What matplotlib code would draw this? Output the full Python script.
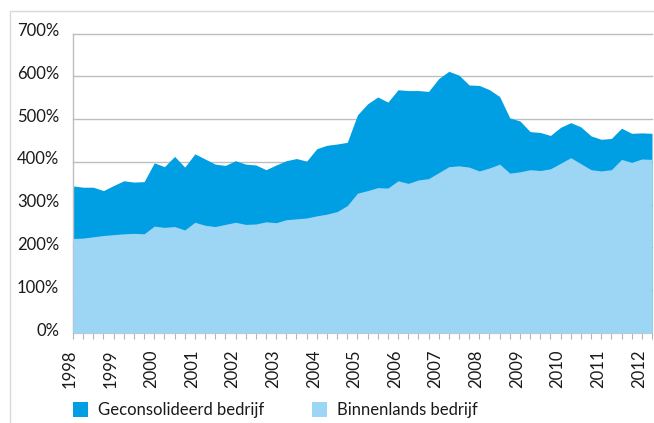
import numpy as np
import matplotlib
matplotlib.use("Agg")
from matplotlib import pyplot as plt
from matplotlib.patches import Rectangle
from matplotlib.transforms import ScaledTranslation

# quarterly data, 1998 Q1 .. 2012 Q2 (percent)
years = list(range(1998, 2013))
geconsolideerd = [344, 341, 341, 333, 345, 356, 353, 354, 398, 389, 413, 388,
                  419, 407, 395, 392, 403, 395, 393, 382, 393, 403, 408, 402,
                  431, 439, 442, 446, 510, 536, 552, 540, 569, 567, 567, 565,
                  595, 612, 603, 580, 579, 569, 553, 503, 496, 471, 469, 462,
                  481, 492, 482, 461, 453, 455, 479, 467, 468, 467]
binnenlands = [221, 222, 225, 228, 230, 232, 233, 232, 250, 247, 249, 241,
               259, 252, 249, 254, 259, 254, 255, 260, 258, 265, 267, 269,
               274, 278, 284, 298, 327, 333, 340, 339, 356, 350, 358, 361,
               375, 389, 391, 388, 379, 386, 395, 374, 377, 382, 380, 384,
               397, 410, 396, 382, 379, 382, 406, 399, 407, 406]
series_labels = ["Geconsolideerd bedrijf", "Binnenlands bedrijf"]
yticks = [0, 100, 200, 300, 400, 500, 600, 700]

dark_blue = "#009FE3"
light_blue = "#9DD5F4"
grid_grey = "#BEBEBE"
text_col = "#1a1a1a"

plt.rcParams["font.family"] = ["Lato", "DejaVu Sans"]

W, H = 654, 423
fig = plt.figure(figsize=(W / 100, H / 100), dpi=100)
ax = fig.add_axes([73 / W, 1 - 333 / H, 579 / W, (333 - 33.7) / H])

x = np.arange(len(geconsolideerd))
ax.fill_between(x, 0, geconsolideerd, color=dark_blue, lw=0, zorder=2)
ax.fill_between(x, 0, binnenlands, color=light_blue, lw=0, zorder=3)

ax.set_xlim(0, len(x) - 1)
ax.set_ylim(0, 700)

for v in yticks[1:]:
    ax.axhline(v, color=grid_grey, lw=1.0, zorder=1, clip_on=False)

ax.set_yticks(yticks)
ax.set_yticklabels([f"{v}%" for v in yticks], fontsize=12, color=text_col)
ax.tick_params(axis="y", length=0, pad=10)
for lab in ax.get_yticklabels():
    lab.set_transform(lab.get_transform() + ScaledTranslation(0, 4 / 100, fig.dpi_scale_trans))

ax.set_xticks(np.arange(0, len(x), 4))
ax.set_xticklabels([str(y) for y in years], rotation=90, fontsize=12, color=text_col)
ax.set_xticks(x, minor=True)
ax.tick_params(axis="x", which="both", length=4, color="#b5b5b5", width=0.8, pad=8)
for lab in ax.get_xticklabels():
    lab.set_transform(lab.get_transform() + ScaledTranslation(-3 / 100, 0, fig.dpi_scale_trans))

for s in ["top", "right"]:
    ax.spines[s].set_visible(False)
ax.spines["left"].set_color(grid_grey)
ax.spines["left"].set_linewidth(1.0)
ax.spines["bottom"].set_color("#c6c6c6")
ax.spines["bottom"].set_linewidth(0.8)

# outer frame (left/top visible)
fig.patches.append(Rectangle((10 / W, -0.1), 1.2, 1.1 - 11 / H, transform=fig.transFigure,
                             fill=False, edgecolor="#d9d9d9", lw=1.0))

# legend
for i, (lab, col) in enumerate(zip(series_labels, [dark_blue, light_blue])):
    x0 = [73, 312][i]
    fig.patches.append(Rectangle((x0 / W, 1 - 417 / H), 15 / W, 15 / H,
                                 transform=fig.transFigure, color=col, lw=0))
    fig.text((x0 + 25) / W, 1 - 409.5 / H, lab, fontsize=12, color=text_col,
             va="center", ha="left")

fig.savefig("out.png", dpi=100)
